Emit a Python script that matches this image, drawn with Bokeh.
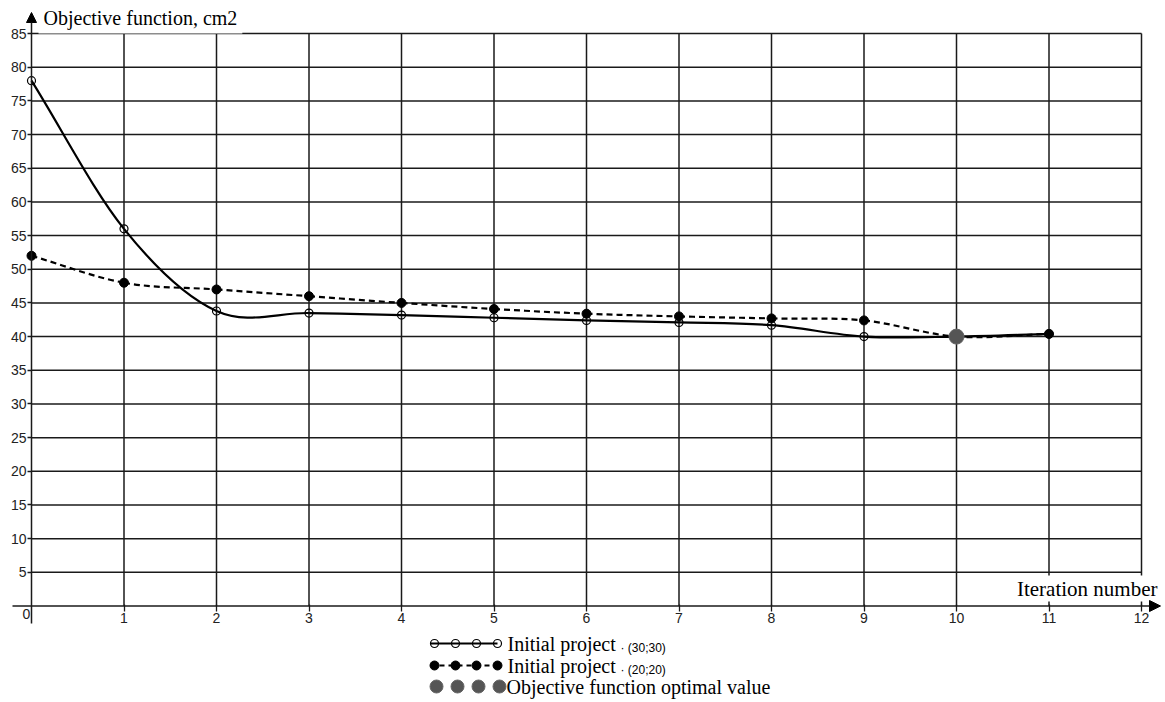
from bokeh.plotting import figure
from bokeh.models import Range1d, FixedTicker, Label, Arrow, NormalHead
from bokeh.embed import file_html
from bokeh.resources import INLINE

# ---- data -------------------------------------------------------------
iterations = list(range(12))
objective_30 = [78.0, 56.0, 43.8, 43.5, 43.2, 42.8, 42.4, 42.1, 41.7, 40.0, 40.0, 40.4]
objective_20 = [52.0, 48.0, 47.0, 46.0, 45.0, 44.1, 43.4, 43.0, 42.7, 42.4, 40.0, 40.4]
optimum_iteration = [10]
optimum_value = [40.0]

x_ticks = list(range(1, 13))
y_ticks = list(range(5, 90, 5))

series_names = ["Initial project", "Initial project", "Objective function optimal value"]
series_params = ["\u00b7 (30;30)", "\u00b7 (20;20)", ""]

x_title = "Iteration number"
y_title = "Objective function, cm2"

# ---- canvas geometry (pixels) ----------------------------------------
W, H = 1165, 702
X0_PX, X_UNIT = 31.0, 92.5      # pixel of iteration 0, pixels per iteration
Y0_PX, Y_UNIT = 605.5, 6.735    # pixel of value 0, pixels per cm2


def X(px):
    return (px - X0_PX) / X_UNIT


def Y(py):
    return (Y0_PX - py) / Y_UNIT


SERIF = "Liberation Serif"
SANS = "Liberation Sans"
INK = "#1a1a1a"
TICK_TEXT = "#222222"

p = figure(
    width=W, height=H,
    x_range=Range1d(X(0), X(W)),
    y_range=Range1d(Y(H), Y(0)),
    min_border=0, title=None,
    toolbar_location=None, output_backend="svg",
    outline_line_color=None,
    background_fill_color="white", border_fill_color="white",
)
p.xgrid.visible = False
p.ygrid.visible = False

# ---- axes drawn through the origin -------------------------------------
for ax in (p.xaxis[0], p.yaxis[0]):
    ax.fixed_location = 0
    ax.axis_line_color = None
    ax.minor_tick_line_color = None
    ax.major_tick_line_color = INK
    ax.major_tick_line_width = 1.3
    ax.major_label_text_font = SANS
    ax.major_label_text_font_size = "14px"
    ax.major_label_text_color = TICK_TEXT

p.xaxis[0].ticker = FixedTicker(ticks=x_ticks)
p.xaxis[0].major_tick_in = 2
p.xaxis[0].major_tick_out = 5
p.xaxis[0].major_label_standoff = 2

p.yaxis[0].ticker = FixedTicker(ticks=y_ticks)
p.yaxis[0].major_tick_in = 0
p.yaxis[0].major_tick_out = 4
p.yaxis[0].major_label_standoff = 1

# ---- grid ------------------------------------------------------------
x_max, y_max = x_ticks[-1], y_ticks[-1]
p.segment(x0=[0] * len(y_ticks), x1=[x_max] * len(y_ticks), y0=y_ticks, y1=y_ticks,
          line_color=INK, line_width=1.5)
p.segment(x0=x_ticks, x1=x_ticks, y0=[0] * len(x_ticks), y1=[y_max] * len(x_ticks),
          line_color=INK, line_width=1.5)


# ---- smooth curves (Catmull-Rom as cubic Bezier segments) --------------
def bezier_segments(xs, ys):
    n = len(xs)
    px = [2 * xs[0] - xs[1]] + list(xs) + [2 * xs[-1] - xs[-2]]
    py = [2 * ys[0] - ys[1]] + list(ys) + [2 * ys[-1] - ys[-2]]
    seg = dict(x0=[], y0=[], x1=[], y1=[], cx0=[], cy0=[], cx1=[], cy1=[])
    for i in range(1, n):
        seg["x0"].append(px[i]); seg["y0"].append(py[i])
        seg["x1"].append(px[i + 1]); seg["y1"].append(py[i + 1])
        seg["cx0"].append(px[i] + (px[i + 1] - px[i - 1]) / 6)
        seg["cy0"].append(py[i] + (py[i + 1] - py[i - 1]) / 6)
        seg["cx1"].append(px[i + 1] - (px[i + 2] - px[i]) / 6)
        seg["cy1"].append(py[i + 1] - (py[i + 2] - py[i]) / 6)
    return seg


p.bezier(**bezier_segments(iterations, objective_20), line_color="black",
         line_width=2.2, line_dash="6 4")
p.bezier(**bezier_segments(iterations, objective_30), line_color="black",
         line_width=2.2)

p.scatter(iterations, objective_30, marker="circle", size=8, fill_color=None,
          line_color="black", line_width=1.2)
p.scatter(iterations, objective_20, marker="circle", size=9, fill_color="black",
          line_color="black")
p.scatter(optimum_iteration, optimum_value, marker="circle", size=15,
          fill_color="#555555", line_color="#666666", line_width=1)

# ---- axis titles and arrows -------------------------------------------
p.add_layout(Label(x=X(38), y=Y(17), text=y_title, text_font=SERIF,
                   text_font_size="20px", text_color="black", text_baseline="middle",
                   background_fill_color="white", padding=5))
p.add_layout(Label(x=X(1158), y=Y(588), text=x_title, text_font=SERIF,
                   text_font_size="21px", text_color="black", text_align="right",
                   text_baseline="middle", background_fill_color="white", padding=1))
p.add_layout(Label(x=X(26), y=Y(613), text="0", text_font=SANS, text_font_size="14px",
                   text_color=TICK_TEXT, text_align="center", text_baseline="middle"))

p.add_layout(Arrow(end=NormalHead(size=10, fill_color="black", line_color="black"),
                   x_start=0, y_start=Y(623), x_end=0, y_end=Y(12),
                   line_color=INK, line_width=1.5))
p.add_layout(Arrow(end=NormalHead(size=11, fill_color="black", line_color="black"),
                   x_start=X(12), y_start=0, x_end=X(1160), y_end=0,
                   line_color=INK, line_width=1.5))

# ---- legend -------------------------------------------------------------
row_px = [643, 665, 686]
key_px = [434, 455, 476, 497]
key_x = [X(k) for k in key_px]

p.line([X(430), X(497)], [Y(row_px[0])] * 2, line_color="black", line_width=2)
p.scatter(key_x, [Y(row_px[0])] * 4, marker="circle", size=8, fill_color=None,
          line_color="black", line_width=1.2)
p.line([X(430), X(497)], [Y(row_px[1])] * 2, line_color="black", line_width=2,
       line_dash="5 4")
p.scatter(key_x, [Y(row_px[1])] * 4, marker="circle", size=9, fill_color="black",
          line_color="black")
p.scatter([X(k + 2) for k in key_px], [Y(row_px[2])] * 4, marker="circle", size=13,
          fill_color="#555555", line_color="#666666")

text_px = [507, 507, 506]
for name, param, ry, tx in zip(series_names, series_params, row_px, text_px):
    p.add_layout(Label(x=X(tx), y=Y(ry), text=name, text_font=SERIF,
                       text_font_size="20px", text_color="black",
                       text_baseline="middle"))
    if param:
        p.add_layout(Label(x=X(620), y=Y(ry + 4), text=param, text_font=SANS,
                           text_font_size="12px", text_color="black",
                           text_baseline="middle"))

open("out.html", "w").write(file_html(p, INLINE))
